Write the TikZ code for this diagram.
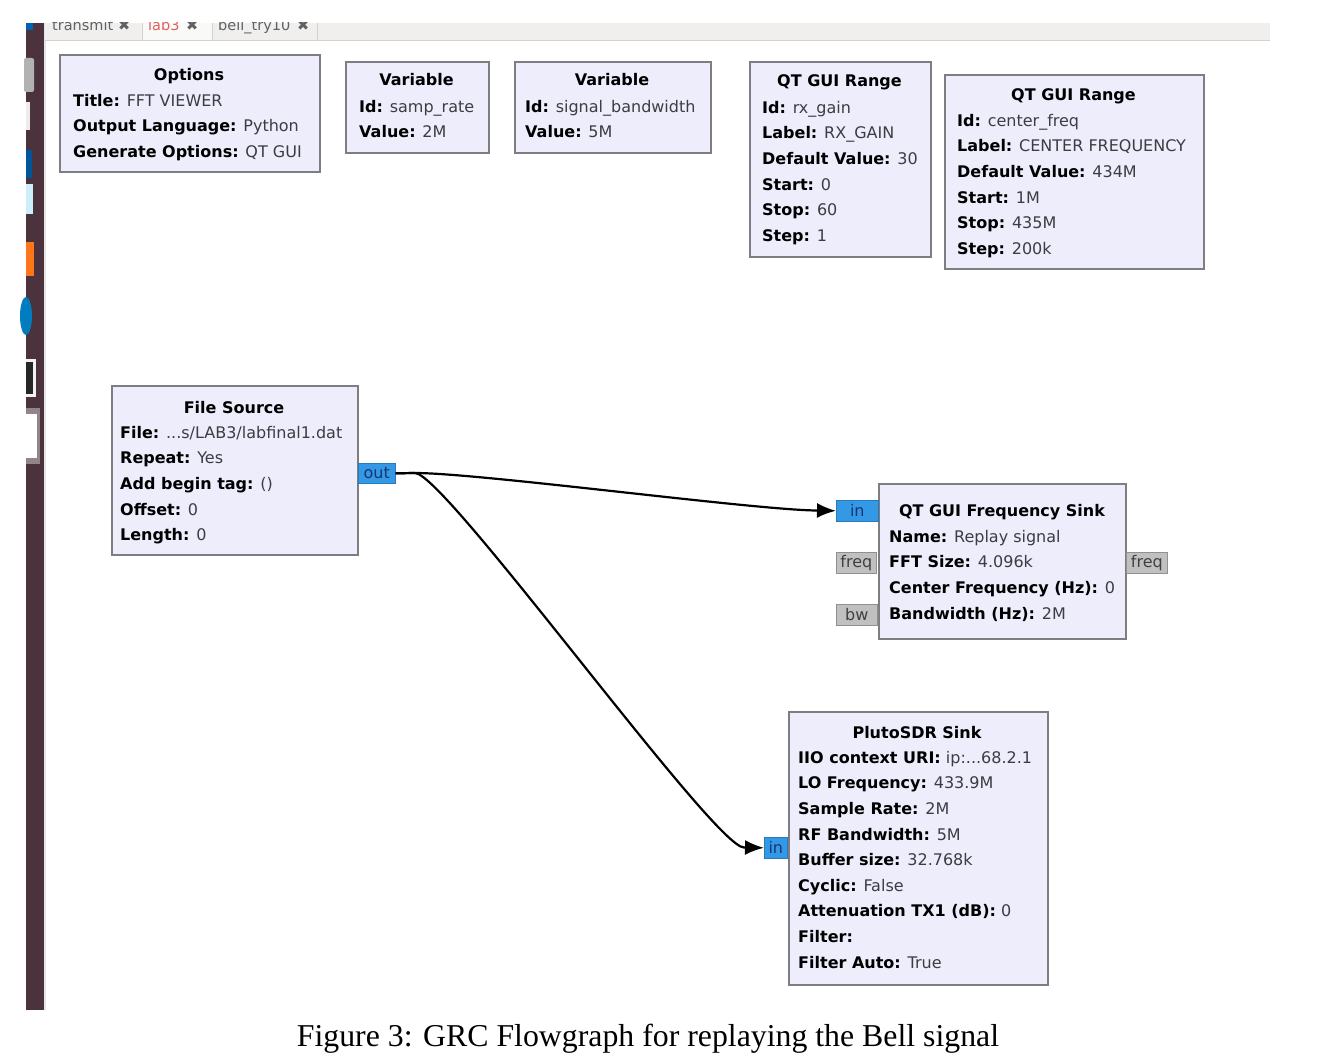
\documentclass[tikz,border=0pt]{standalone}
\usepackage{fontspec}
\setmainfont{DejaVu Sans}
\newfontfamily\capfont{Liberation Serif}
\usetikzlibrary{arrows.meta,calc}
\definecolor{blkfill}{RGB}{238,237,252}
\definecolor{blkborder}{RGB}{125,125,130}
\definecolor{valgray}{RGB}{60,60,66}
\definecolor{portblue}{RGB}{51,153,230}
\definecolor{porttext}{RGB}{25,55,110}
\definecolor{portgray}{RGB}{192,192,192}
\definecolor{tabbar}{RGB}{240,239,237}
\definecolor{tabline}{RGB}{212,210,206}
\definecolor{launcher}{RGB}{75,50,60}
\definecolor{tabred}{RGB}{225,95,95}
\newcommand{\lb}[1]{{\bfseries\color{black}#1}}
\tikzset{
  blk/.style={draw=blkborder, line width=1.8pt, fill=blkfill, inner sep=0pt, anchor=north west},
  ttl/.style={anchor=base, inner sep=0pt, font=\bfseries\fontsize{16}{20}\selectfont, text=black},
  body/.style={anchor=north west, align=left, inner sep=0pt, font=\fontsize{16}{25.6}\selectfont, text=valgray},
  port/.style={fill=portblue, draw=portblue!80!black, line width=0.6pt, inner sep=0pt, anchor=north west, font=\fontsize{16}{18}\selectfont, text=porttext},
  gport/.style={fill=portgray, draw=portgray!75!black, line width=0.6pt, inner sep=0pt, anchor=north west, font=\fontsize{16}{18}\selectfont, text=black!75},
  conn/.style={draw=black, line width=2.2pt, -{Latex[length=19pt,width=15pt]}},
  tabtxt/.style={anchor=base west, inner sep=0pt, font=\fontsize{14.5}{16}\selectfont, text=black!62},
}
\begin{document}
\begin{tikzpicture}[x=1pt,y=-1pt]
\useasboundingbox (0,0) rectangle (1340,1064);
\fill[white] (0,0) rectangle (1340,1064);
% launcher bar
\fill[launcher] (26,23) rectangle (45,1010);
\fill[black!10] (44,23) rectangle (45.5,1010);
\fill[blue!45!cyan!70!black] (26,23) rectangle (33,30);
\fill[black!30!white, rounded corners=2pt] (24,58) rectangle (34,92);
\fill[white!85!gray] (26,102) rectangle (30,130);
\fill[blue!45!cyan!60!black] (26,150) rectangle (32,178);
\fill[cyan!20!white] (26,184) rectangle (33,214);
\fill[orange!80!red!90!white] (26,242) rectangle (34,276);
\fill[blue!35!cyan!75!black] (26,316) ellipse (6 and 19);
\fill[white!90!gray] (26,359) rectangle (36,397);
\fill[black!85] (26,362) rectangle (33,394);
\fill[launcher!60!white] (26,408) rectangle (40,464);
\fill[white] (26,414) rectangle (37,458);
% tab bar
\fill[tabbar] (45,23) rectangle (1270,41);
\fill[white!60!tabbar] (142,23) rectangle (212,41);
\draw[tabline, line width=1pt] (45,41) -- (1270,41);
\draw[tabline, line width=1pt] (142,23) -- (142,41) (212,23) -- (212,41) (317,23) -- (317,41);
\begin{scope}
\clip (45,23) rectangle (1270,41);
\node[tabtxt] (tab1) at (52,31) {transmit};
\node[tabtxt] (tab1x) at (118,31) {✖};
\node[tabtxt, text=tabred] (tab2) at (148,31) {lab3};
\node[tabtxt] (tab2x) at (186,31) {✖};
\node[tabtxt] (tab3) at (218,31) {bell\_try10};
\node[tabtxt] (tab3x) at (297,31) {✖};
\end{scope}
% Options
\node[blk, minimum width=260pt, minimum height=117pt] (opt) at (59,54) {};
\node[ttl] (optT) at (189,81) {Options};
\node[body] (optB) at (73,88.15) {\strut\lb{Title:} FFT VIEWER\\\lb{Output Language:} Python\\\lb{Generate Options:} QT GUI};
% Variable 1
\node[blk, minimum width=143pt, minimum height=91pt] (var1) at (345,61) {};
\node[ttl] (var1T) at (416.5,86) {Variable};
\node[body] (var1B) at (359,94.15) {\strut\lb{Id:} samp\_rate\\\lb{Value:} 2M};
% Variable 2
\node[blk, minimum width=196pt, minimum height=91pt] (var2) at (514,61) {};
\node[ttl] (var2T) at (612,86) {Variable};
\node[body] (var2B) at (525,94.15) {\strut\lb{Id:} signal\_bandwidth\\\lb{Value:} 5M};
% QT GUI Range 1
\node[blk, minimum width=181pt, minimum height=195pt] (rng1) at (749,61) {};
\node[ttl] (rng1T) at (839.5,87) {QT GUI Range};
\node[body] (rng1B) at (762,95.15) {\strut\lb{Id:} rx\_gain\\\lb{Label:} RX\_GAIN\\\lb{Default Value:} 30\\\lb{Start:} 0\\\lb{Stop:} 60\\\lb{Step:} 1};
% QT GUI Range 2
\node[blk, minimum width=259pt, minimum height=194pt] (rng2) at (944,74) {};
\node[ttl] (rng2T) at (1073.5,101) {QT GUI Range};
\node[body] (rng2B) at (957,108.15) {\strut\lb{Id:} center\_freq\\\lb{Label:} CENTER FREQUENCY\\\lb{Default Value:} 434M\\\lb{Start:} 1M\\\lb{Stop:} 435M\\\lb{Step:} 200k};
% File Source
\node[blk, minimum width=246pt, minimum height=169pt] (fsrc) at (111,385) {};
\node[ttl] (fsrcT) at (234,413) {File Source};
\node[body] (fsrcB) at (120,420.15) {\strut\lb{File:} ...s/LAB3/labfinal1.dat\\\lb{Repeat:} Yes\\\lb{Add begin tag:} ()\\\lb{Offset:} 0\\\lb{Length:} 0};
\node[port, minimum width=37pt, minimum height=20pt] (outP) at (358,463) {out};
% QT GUI Frequency Sink
\node[blk, minimum width=247pt, minimum height=155pt] (fsink) at (878,483) {};
\node[ttl] (fsinkT) at (1002,516) {QT GUI Frequency Sink};
\node[body] (fsinkB) at (889,524.15) {\strut\lb{Name:} Replay signal\\\lb{FFT Size:} 4.096k\\\lb{Center Frequency (Hz):} 0\\\lb{Bandwidth (Hz):} 2M};
\node[port, minimum width=42pt, minimum height=21pt] (inP1) at (836,500) {in};
\node[gport, minimum width=40pt, minimum height=21pt] (freqL) at (836,552) {freq};
\node[gport, minimum width=41pt, minimum height=21pt] (bwP) at (836,604) {bw};
\node[gport, minimum width=41pt, minimum height=21pt] (freqR) at (1126,552) {freq};
% PlutoSDR Sink
\node[blk, minimum width=259pt, minimum height=273pt] (pluto) at (788,711) {};
\node[ttl] (plutoT) at (917,738) {PlutoSDR Sink};
\node[body] (plutoB) at (798,745.15) {\strut\lb{IIO context URI:} ip:...68.2.1\\\lb{LO Frequency:} 433.9M\\\lb{Sample Rate:} 2M\\\lb{RF Bandwidth:} 5M\\\lb{Buffer size:} 32.768k\\\lb{Cyclic:} False\\\lb{Attenuation TX1 (dB):} 0\\\lb{Filter:}\\\lb{Filter Auto:} True};
\node[port, minimum width=23pt, minimum height=21pt] (inP2) at (764,837) {in};
% connections
\coordinate (o1) at (415,473);
\coordinate (a1) at (818,510.5);
\coordinate (a2) at (744,847.5);
\draw[conn] (outP.east) -- (o1) .. controls (480,473) and (758,510.5) .. (a1) -- (inP1.west);
\draw[conn] (outP.east) -- (o1) .. controls (445,473) and (714,847.5) .. (a2) -- (inP2.west);
% caption
\node[anchor=base, inner sep=0pt, font=\capfont\fontsize{31.8}{34}\selectfont] (cap) at (648,1046) {Figure 3: GRC Flowgraph for replaying the Bell signal};
\end{tikzpicture}
\end{document}
